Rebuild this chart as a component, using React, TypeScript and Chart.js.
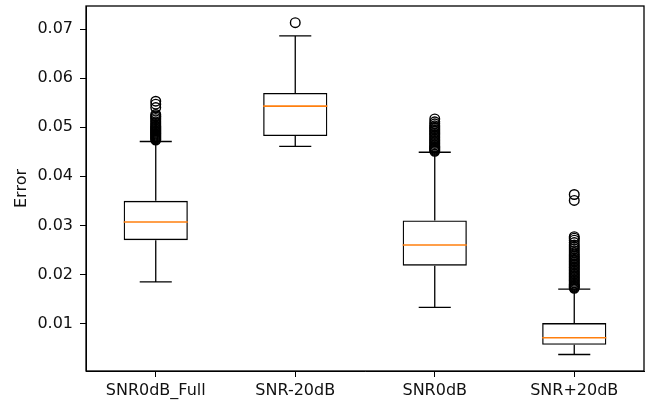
import React, { useEffect, useRef } from "react";
import { Chart, registerables } from "chart.js";

Chart.register(...registerables);

const categories = ["SNR0dB_Full", "SNR-20dB", "SNR0dB", "SNR+20dB"];
const q1 = [0.027, 0.0482, 0.0218, 0.0057];
const medians = [0.0307, 0.0543, 0.026, 0.0071];
const q3 = [0.035, 0.057, 0.031, 0.0101];
const whiskerLow = [0.0185, 0.0461, 0.0133, 0.0037];
const whiskerHigh = [0.0471, 0.0686, 0.0449, 0.017];

const outliersFull = [0.0474, 0.0476, 0.0478, 0.048, 0.0482, 0.0484, 0.0486, 0.0488, 0.049, 0.0492, 0.0494, 0.0496, 0.0498, 0.05, 0.0502, 0.0505, 0.0508, 0.0511, 0.0515, 0.0518, 0.0521, 0.0523, 0.0526, 0.054, 0.0547, 0.0553];
const outliersM20 = [0.0713];
const outliers0 = [0.0451, 0.0453, 0.0455, 0.0457, 0.0459, 0.0461, 0.0464, 0.0467, 0.047, 0.0473, 0.0476, 0.0479, 0.0482, 0.0485, 0.0488, 0.0491, 0.0494, 0.0497, 0.05, 0.0503, 0.0507, 0.0511, 0.0517];
const outliersP20 = [0.0172, 0.0174, 0.0176, 0.0178, 0.018, 0.0183, 0.0186, 0.0189, 0.0192, 0.0195, 0.0198, 0.0201, 0.0204, 0.0207, 0.021, 0.0213, 0.0216, 0.0219, 0.0222, 0.0225, 0.0228, 0.0231, 0.0234, 0.0237, 0.024, 0.0244, 0.0248, 0.0252, 0.0256, 0.026, 0.0265, 0.027, 0.0274, 0.0277, 0.0351, 0.0363];
const outlierGroups = [outliersFull, outliersM20, outliers0, outliersP20];

const yTicks = [0.01, 0.02, 0.03, 0.04, 0.05, 0.06, 0.07];
const yMin = 0.00034;
const yMax = 0.0747;

const FONT = { family: "'DejaVu Sans', sans-serif", size: 16 };

const boxExtras = {
  id: "boxExtras",
  afterDatasetsDraw(chart: any) {
    const { ctx } = chart;
    const xs = chart.scales.x;
    const ys = chart.scales.y;
    const meta = chart.getDatasetMeta(0);
    ctx.save();
    categories.forEach((_, i) => {
      const x = xs.getPixelForValue(i);
      const bar = meta.data[i];
      const half = bar ? bar.width / 2 : 32;
      const capHalf = half / 2;
      ctx.strokeStyle = "#000";
      ctx.lineWidth = 1.3;
      ctx.beginPath();
      ctx.moveTo(x, ys.getPixelForValue(q1[i]));
      ctx.lineTo(x, ys.getPixelForValue(whiskerLow[i]));
      ctx.moveTo(x, ys.getPixelForValue(q3[i]));
      ctx.lineTo(x, ys.getPixelForValue(whiskerHigh[i]));
      const yl = ys.getPixelForValue(whiskerLow[i]);
      const yh = ys.getPixelForValue(whiskerHigh[i]);
      ctx.moveTo(x - capHalf, yl);
      ctx.lineTo(x + capHalf, yl);
      ctx.moveTo(x - capHalf, yh);
      ctx.lineTo(x + capHalf, yh);
      ctx.stroke();
      ctx.strokeStyle = "#ff7f0e";
      ctx.lineWidth = 1.6;
      const ym = ys.getPixelForValue(medians[i]);
      ctx.beginPath();
      ctx.moveTo(x - half, ym);
      ctx.lineTo(x + half, ym);
      ctx.stroke();
    });
    ctx.restore();
  },
  afterDraw(chart: any) {
    const { ctx, chartArea } = chart;
    ctx.save();
    ctx.strokeStyle = "#000";
    ctx.lineWidth = 1.3;
    ctx.strokeRect(chartArea.left, chartArea.top, chartArea.right - chartArea.left, chartArea.bottom - chartArea.top);
    ctx.restore();
  },
};

export default function App() {
  const ref = useRef<HTMLCanvasElement | null>(null);
  useEffect(() => {
    if (!ref.current) return;
    const outlierData: any[] = [];
    outlierGroups.forEach((g, i) => g.forEach((v) => outlierData.push({ x: categories[i], y: v })));
    const chart = new Chart(ref.current, {
      type: "bar",
      data: {
        labels: categories,
        datasets: [
          {
            type: "bar",
            data: categories.map((_, i) => [q1[i], q3[i]]) as any,
            backgroundColor: "rgba(0,0,0,0)",
            borderColor: "#000",
            borderWidth: 1.3,
            borderSkipped: false,
            barPercentage: 0.46,
            categoryPercentage: 1,
            order: 2,
          } as any,
          {
            type: "scatter",
            data: outlierData,
            pointRadius: 4.8,
            pointBorderWidth: 1.4,
            pointBorderColor: "#000",
            pointBackgroundColor: "rgba(0,0,0,0)",
            showLine: false,
            order: 1,
          } as any,
        ],
      },
      options: {
        animation: false,
        responsive: true,
        maintainAspectRatio: false,
        layout: { autoPadding: false, padding: { top: 6, right: 3, left: 0, bottom: 0 } },
        plugins: { legend: { display: false }, tooltip: { enabled: false } },
        scales: {
          x: {
            type: "category",
            offset: true,
            grid: { display: true, drawOnChartArea: false, drawTicks: true, tickLength: 6, color: "#000", offset: false },
            border: { display: true, color: "#000" },
            ticks: { color: "#111", font: FONT, padding: 4, maxRotation: 0, autoSkip: false },
            afterFit: (s: any) => {
              s.height = 31;
              s.paddingLeft = 0;
              s.paddingRight = 0;
            },
          } as any,
          y: {
            type: "linear",
            min: yMin,
            max: yMax,
            grid: { display: true, drawOnChartArea: false, drawTicks: true, tickLength: 6, color: "#000" },
            border: { display: true, color: "#000" },
            ticks: {
              color: "#111",
              font: FONT,
              padding: 7,
              callback: (v: any) => Number(v).toFixed(2),
            },
            afterBuildTicks: (s: any) => {
              s.ticks = yTicks.map((v) => ({ value: v }));
            },
            afterFit: (s: any) => {
              s.width = 86;
              s.paddingTop = 0;
              s.paddingBottom = 0;
            },
            title: { display: true, text: "Error", color: "#111", font: FONT, padding: { top: 12, bottom: 0 } },
          } as any,
        },
      },
      plugins: [boxExtras],
    });
    return () => chart.destroy();
  }, []);
  return (
    <div style={{ position: "absolute", left: 0, top: 0, width: 647, height: 402, background: "#fff" }}>
      <canvas ref={ref} />
    </div>
  );
}
